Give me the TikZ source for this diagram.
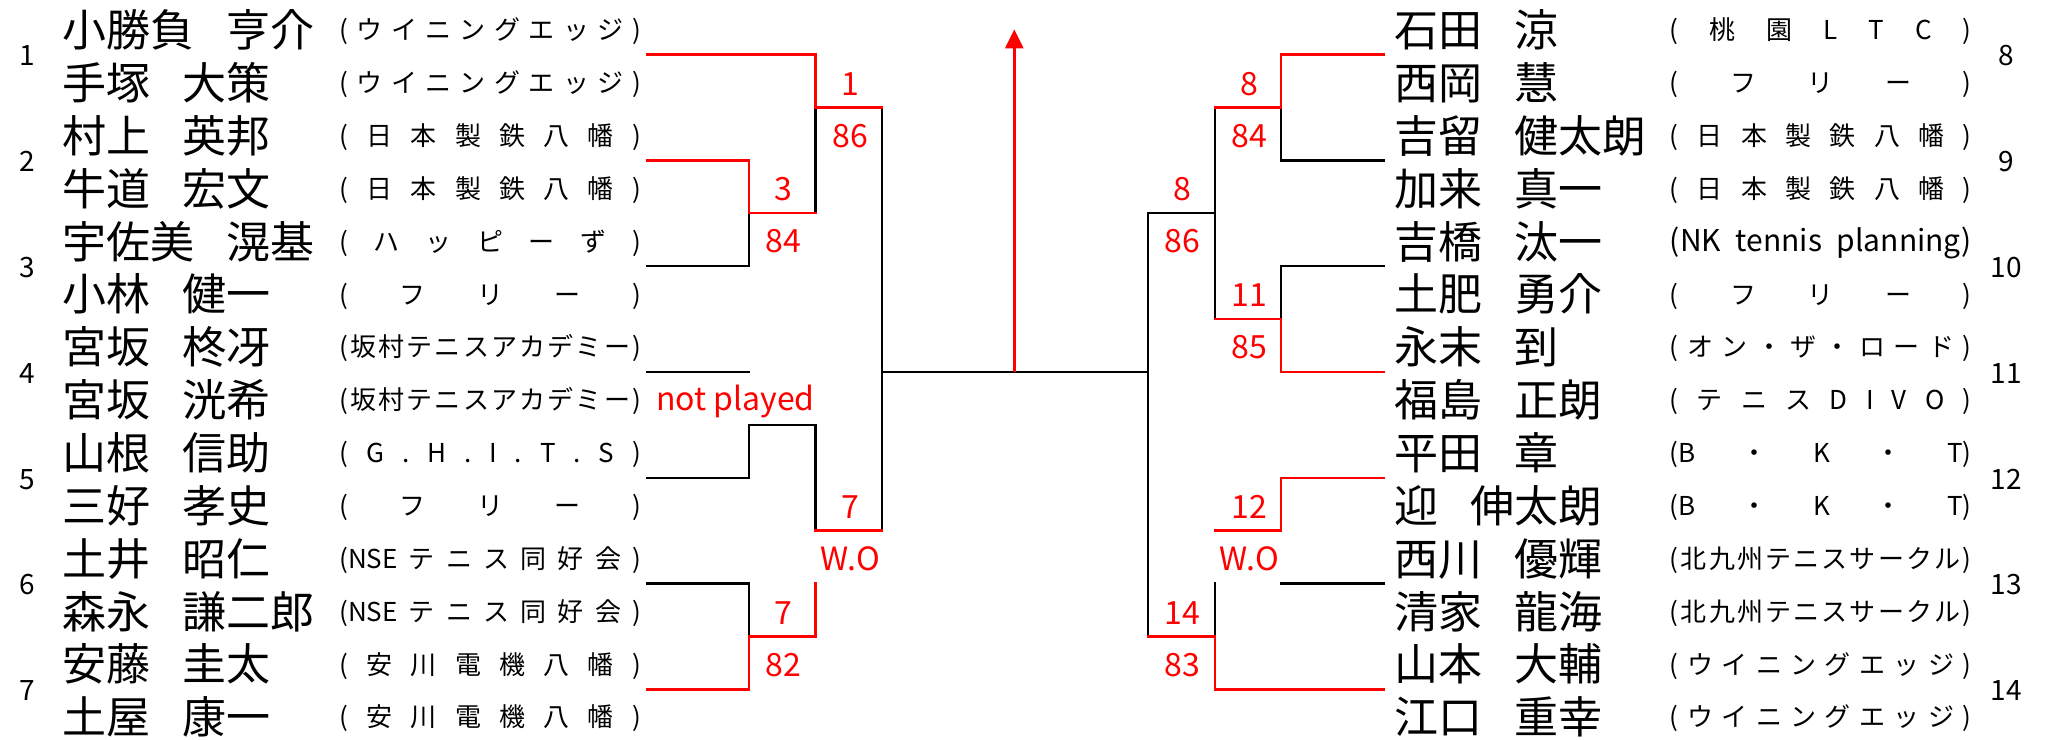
\documentclass[tikz,border=0pt]{standalone}
\usepackage{fontspec}
\setmainfont{Noto Sans CJK JP}
\usepackage{graphicx}
\usetikzlibrary{arrows.meta}
\newcommand\gp{\hspace{16pt}}
\newcommand\orgdist[1]{\makebox[150.8pt][s]{#1}}
\begin{document}
\begin{tikzpicture}[x=0.5pt,y=-0.5pt,
  blk/.style={line width=1.2pt,black,line cap=rect},
  rd/.style={line width=1.2pt,red,line cap=rect},
  nm/.style={anchor=west,inner sep=0pt,font=\fontsize{22pt}{24pt}\selectfont,text height=19.36pt,text depth=2.64pt},
  og/.style={anchor=west,inner sep=0pt,font=\fontsize{13pt}{15pt}\selectfont,text height=11.44pt,text depth=1.56pt},
  lb/.style={red,inner sep=0pt,font=\fontsize{16pt}{18pt}\selectfont,text height=11.7pt,text depth=0pt},
  sd/.style={inner sep=0pt,font=\fontsize{14pt}{16pt}\selectfont,text height=10.3pt,text depth=0pt}]
\fill[white] (0,0) rectangle (2050,739);
\useasboundingbox (0,0) rectangle (2050,739);
% left names
\foreach \i/\n in {1/{小勝負\gp 亨介},2/{手塚\gp 大策},3/{村上\gp 英邦},4/{牛道\gp 宏文},5/{宇佐美\gp 滉基},6/{小林\gp 健一},7/{宮坂\gp 柊冴},8/{宮坂\gp 洸希},9/{山根\gp 信助},10/{三好\gp 孝史},11/{土井\gp 昭仁},12/{森永\gp 謙二郎},13/{安藤\gp 圭太},14/{土屋\gp 康一}}{
  \pgfmathsetmacro\yy{30+(\i-1)*52.85}
  \node[nm] (ln\i) at (62.5,\yy) {\n};
}
% right names
\foreach \i/\n in {1/{石田\gp 涼},2/{西岡\gp 慧},3/{吉留\gp 健太朗},4/{加来\gp 真一},5/{吉橋\gp 汰一},6/{土肥\gp 勇介},7/{永末\gp 到},8/{福島\gp 正朗},9/{平田\gp 章},10/{迎\gp 伸太朗},11/{西川\gp 優輝},12/{清家\gp 龍海},13/{山本\gp 大輔},14/{江口\gp 重幸}}{
  \pgfmathsetmacro\yy{30+(\i-1)*52.85}
  \node[nm] (rn\i) at (1394,\yy) {\n};
}
% left orgs
\foreach \i/\o in {
 1/{(\hfill ウ\hfill イ\hfill ニ\hfill ン\hfill グ\hfill エ\hfill ッ\hfill ジ\hfill )},
 2/{(\hfill ウ\hfill イ\hfill ニ\hfill ン\hfill グ\hfill エ\hfill ッ\hfill ジ\hfill )},
 3/{(\hfill 日\hfill 本\hfill 製\hfill 鉄\hfill 八\hfill 幡\hfill )},
 4/{(\hfill 日\hfill 本\hfill 製\hfill 鉄\hfill 八\hfill 幡\hfill )},
 5/{(\hfill ハ\hfill ッ\hfill ピ\hfill ー\hfill ず\hfill )},
 6/{(\hfill フ\hfill リ\hfill ー\hfill )},
 7/{(\hfill 坂\hfill 村\hfill テ\hfill ニ\hfill ス\hfill ア\hfill カ\hfill デ\hfill ミ\hfill ー\hfill )},
 8/{(\hfill 坂\hfill 村\hfill テ\hfill ニ\hfill ス\hfill ア\hfill カ\hfill デ\hfill ミ\hfill ー\hfill )},
 9/{(\hfill G\hfill .\hfill H\hfill .\hfill I\hfill .\hfill T\hfill .\hfill S\hfill )},
 10/{(\hfill フ\hfill リ\hfill ー\hfill )},
 11/{(NSE\hfill テ\hfill ニ\hfill ス\hfill 同\hfill 好\hfill 会\hfill )},
 12/{(NSE\hfill テ\hfill ニ\hfill ス\hfill 同\hfill 好\hfill 会\hfill )},
 13/{(\hfill 安\hfill 川\hfill 電\hfill 機\hfill 八\hfill 幡\hfill )},
 14/{(\hfill 安\hfill 川\hfill 電\hfill 機\hfill 八\hfill 幡\hfill )}}{
  \pgfmathsetmacro\yy{30+(\i-1)*52.85}
  \node[og] (lo\i) at (339,\yy) {\orgdist{\o}};
}
% right orgs
\foreach \i/\o in {
 1/{(\hfill 桃\hfill 園\hfill L\hfill T\hfill C\hfill )},
 2/{(\hfill フ\hfill リ\hfill ー\hfill )},
 3/{(\hfill 日\hfill 本\hfill 製\hfill 鉄\hfill 八\hfill 幡\hfill )},
 4/{(\hfill 日\hfill 本\hfill 製\hfill 鉄\hfill 八\hfill 幡\hfill )},
 5/{\fontsize{15pt}{17pt}\selectfont(NK tennis planning)},
 6/{(\hfill フ\hfill リ\hfill ー\hfill )},
 7/{(\hfill オ\hfill ン\hfill ・\hfill ザ\hfill ・\hfill ロ\hfill ー\hfill ド\hfill )},
 8/{(\hfill テ\hfill ニ\hfill ス\hfill D\hfill I\hfill V\hfill O\hfill )},
 9/{(B\hfill ・\hfill K\hfill ・\hfill T)},
 10/{(B\hfill ・\hfill K\hfill ・\hfill T)},
 11/{(\hfill 北\hfill 九\hfill 州\hfill テ\hfill ニ\hfill ス\hfill サ\hfill ー\hfill ク\hfill ル\hfill )},
 12/{(\hfill 北\hfill 九\hfill 州\hfill テ\hfill ニ\hfill ス\hfill サ\hfill ー\hfill ク\hfill ル\hfill )},
 13/{(\hfill ウ\hfill イ\hfill ニ\hfill ン\hfill グ\hfill エ\hfill ッ\hfill ジ\hfill )},
 14/{(\hfill ウ\hfill イ\hfill ニ\hfill ン\hfill グ\hfill エ\hfill ッ\hfill ジ\hfill )}}{
  \pgfmathsetmacro\yy{30+(\i-1)*52.85}
  \node[og] (ro\i) at (1669.5,\yy) {\orgdist{\o}};
}
% seeds
\foreach \k in {1,...,7}{
  \pgfmathsetmacro\yy{55.5+(\k-1)*105.8}
  \pgfmathtruncatemacro\kk{\k+7}
  \node[sd] (ls\k) at (27,\yy) {\k};
  \node[sd] (rs\kk) at (2006,\yy) {\kk};
}
% ---- left bracket ----
\draw[blk] (815.6,107.4) -- (815.6,213.2);
\draw[blk] (647,266.1) -- (748.7,266.1) -- (748.7,213.2);
\draw[blk] (647,371.9) -- (748.7,371.9);
\draw[blk] (647,477.7) -- (748.7,477.7) -- (748.7,424.8) -- (815.6,424.8) -- (815.6,530.6);
\draw[blk] (647,583.5) -- (748.7,583.5) -- (748.7,636.4);
\draw[blk] (882.1,107.4) -- (882.1,530.6);
\draw[blk] (882.1,371.9) -- (1148.2,371.9);
\draw[rd] (647,54.5) -- (815.6,54.5) -- (815.6,107.4) -- (882.1,107.4);
\draw[rd] (647,160.3) -- (748.7,160.3) -- (748.7,213.2) -- (815.6,213.2);
\draw[rd] (815.6,530.6) -- (882.1,530.6);
\draw[rd] (815.6,583.5) -- (815.6,636.4) -- (748.7,636.4) -- (748.7,689.3) -- (647,689.3);
% ---- right bracket ----
\draw[blk] (1148.2,213.2) -- (1148.2,636.4);
\draw[blk] (1384,160.3) -- (1281,160.3) -- (1281,107.4);
\draw[blk] (1384,266.1) -- (1281,266.1) -- (1281,319);
\draw[blk] (1215.2,107.4) -- (1215.2,319);
\draw[blk] (1215.2,213.2) -- (1148.2,213.2);
\draw[blk] (1384,583.5) -- (1281,583.5);
\draw[blk] (1215.2,583.5) -- (1215.2,636.4);
\draw[rd] (1384,54.5) -- (1281,54.5) -- (1281,107.4) -- (1215.2,107.4);
\draw[rd] (1215.2,319) -- (1281,319) -- (1281,371.9) -- (1384,371.9);
\draw[rd] (1384,477.7) -- (1281,477.7) -- (1281,530.6) -- (1215.2,530.6);
\draw[rd] (1384,689.3) -- (1215.2,689.3) -- (1215.2,636.4) -- (1148.2,636.4);
% ---- arrow ----
\coordinate (cbase) at (1014.3,371.9);
\coordinate (ctop) at (1014.3,29.3);
\draw[red,line width=1.2pt,-{Triangle[width=9pt,length=9.5pt]}] (cbase) -- (ctop);
% ---- labels ----
\node[lb] (a1) at (850,83.4) {1};
\node[lb] (a2) at (850,135.4) {86};
\node[lb] (a3) at (783,189.2) {3};
\node[lb] (a4) at (783,241.2) {84};
\node[lb,text height=12pt,text depth=3.2pt] (a5) at (735.5,401.7) {not played};
\node[lb] (a6) at (850,506.6) {7};
\node[lb] (a7) at (850,558.6) {W.O};
\node[lb] (a8) at (783,612.4) {7};
\node[lb] (a9) at (783,664.4) {82};
\node[lb] (b1) at (1249.6,83.4) {8};
\node[lb] (b2) at (1249.6,135.4) {84};
\node[lb] (b3) at (1182.6,189.2) {8};
\node[lb] (b4) at (1182.6,241.2) {86};
\node[lb] (b5) at (1249.6,295) {11};
\node[lb] (b6) at (1249.6,347) {85};
\node[lb] (b7) at (1249.6,506.6) {12};
\node[lb] (b8) at (1249.6,558.6) {W.O};
\node[lb] (b9) at (1182.6,612.4) {14};
\node[lb] (b10) at (1182.6,664.4) {83};
\end{tikzpicture}
\end{document}
